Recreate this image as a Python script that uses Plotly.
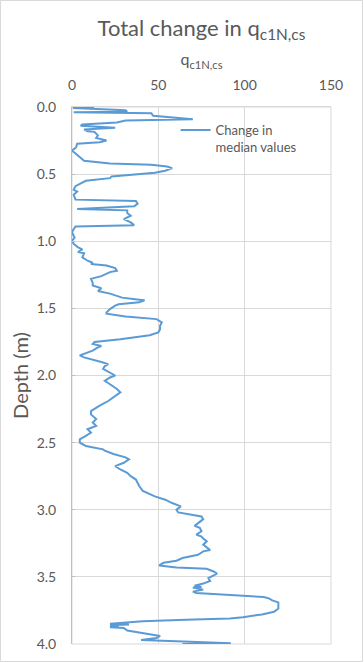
import plotly.graph_objects as go

# Depth (m) and change in median q_c1N,cs values
depth = [
    0.000, 0.008, 0.025, 0.035, 0.040, 0.047, 0.065, 0.092, 0.100, 0.115,
    0.130, 0.140, 0.154, 0.167, 0.180, 0.185, 0.212, 0.230, 0.249, 0.262,
    0.274, 0.299, 0.310, 0.324, 0.335, 0.356, 0.373, 0.400, 0.420, 0.430,
    0.443, 0.455, 0.475, 0.490, 0.517, 0.530, 0.550, 0.567, 0.590, 0.617,
    0.630, 0.654, 0.690, 0.700, 0.720, 0.740, 0.760, 0.770, 0.790, 0.810,
    0.835, 0.860, 0.880, 0.890, 0.910, 0.930, 0.960, 0.975, 0.995, 1.020,
    1.045, 1.060, 1.080, 1.090, 1.120, 1.145, 1.160, 1.170, 1.180, 1.200,
    1.220, 1.230, 1.260, 1.280, 1.310, 1.330, 1.350, 1.370, 1.390, 1.420,
    1.435, 1.440, 1.455, 1.470, 1.480, 1.505, 1.530, 1.540, 1.560, 1.580,
    1.605, 1.630, 1.655, 1.680, 1.700, 1.730, 1.750, 1.765, 1.780, 1.790,
    1.815, 1.840, 1.850, 1.865, 1.880, 1.900, 1.915, 1.930, 1.950, 1.980,
    2.000, 2.015, 2.040, 2.065, 2.100, 2.125, 2.150, 2.190, 2.225, 2.265,
    2.290, 2.325, 2.350, 2.375, 2.400, 2.425, 2.450, 2.475, 2.500, 2.525,
    2.550, 2.560, 2.585, 2.610, 2.625, 2.650, 2.675, 2.700, 2.725, 2.750,
    2.775, 2.825, 2.860, 2.900, 2.925, 2.950, 2.975, 3.000, 3.020, 3.035,
    3.050, 3.070, 3.100, 3.120, 3.135, 3.160, 3.185, 3.200, 3.215, 3.235,
    3.260, 3.300, 3.310, 3.335, 3.360, 3.380, 3.395, 3.415, 3.430, 3.440,
    3.460, 3.475, 3.510, 3.530, 3.550, 3.565, 3.575, 3.580, 3.595, 3.610,
    3.620, 3.632, 3.640, 3.650, 3.660, 3.675, 3.690, 3.735, 3.760, 3.780,
    3.800, 3.810, 3.820, 3.830, 3.850, 3.855, 3.860, 3.865, 3.875, 3.880,
    3.900, 3.920, 3.940, 3.955, 3.970, 3.980, 3.995, 4.000,
]
change_median = [
    12.8, 0.5, 31, 32, 1, 46, 47, 70, 31, 26,
    6, 5, 25, 7, 9, 13, 15, 14, 20, 16,
    3, 2.4, 1.5, 0, 1, 3, 4, 7, 22, 46,
    55, 58, 54, 48, 23, 22, 8, 5, 2, 1,
    3, 1, 2, 37, 38, 36, 3, 32, 32, 34,
    30, 34, 36, 2, 1, 0, 1, 1.5, 0, 1,
    3.5, 6, 3.5, 7, 6, 9, 12, 11, 20, 25,
    26, 22, 17, 11, 12, 12, 17, 15, 22, 29,
    39, 42, 39, 27, 25, 22, 20, 20, 31, 49,
    52, 51, 51, 50, 45, 28, 13, 12, 17, 15,
    12, 6, 4.5, 7, 12, 17, 21, 19, 18, 22,
    25, 22, 19, 22, 26, 28, 25, 21, 16, 11,
    11, 14, 12, 14, 9, 11, 8, 4.5, 4.5, 8,
    18, 19, 24, 31, 33, 30, 25, 28, 32, 34,
    37, 39, 41, 48, 54, 58, 63, 60.5, 61.5, 68,
    75, 76, 73, 71, 74, 75, 72, 75, 76, 78,
    76, 80, 76, 73, 64, 60.5, 53, 50.5, 60.5, 78,
    82, 84, 79, 80, 76, 71, 75, 70, 76, 70,
    72, 88, 105, 111, 114, 116, 119.5, 119.5, 117, 110,
    99, 91.5, 66, 41, 22, 33, 22, 27, 22, 30,
    32, 41, 51, 49, 40, 60.5, 92, 64,
]

x_ticks = [0, 50, 100, 150]
y_ticks = [0.0, 0.5, 1.0, 1.5, 2.0, 2.5, 3.0, 3.5, 4.0]

FONT = "Lato, 'Open Sans', sans-serif"
GREY = "#595959"

fig = go.Figure()
fig.add_trace(go.Scatter(
    x=change_median, y=depth, mode="lines",
    name="Change in<br>median values",
    line=dict(color="#5B9BD5", width=2),
))

L, R, T, B = 72, 33, 107, 18
W, H = 364, 662
pw, ph = W - L - R, H - T - B

fig.update_layout(
    width=W, height=H,
    margin=dict(l=L, r=R, t=T, b=B, autoexpand=False),
    paper_bgcolor="white", plot_bgcolor="white",
    font=dict(family=FONT, color=GREY, size=13),
    title=dict(text="Total change in q<sub>c1N,cs</sub>",
               font=dict(size=22, color=GREY, family=FONT),
               x=(L + pw / 2) / W, xanchor="center",
               y=1 - 28 / H, yanchor="middle", yref="container"),
    showlegend=True,
    legend=dict(x=0.40, y=0.985, xanchor="left", yanchor="top",
                bgcolor="rgba(0,0,0,0)", font=dict(size=13, color=GREY),
                valign="top", tracegroupgap=0),
    xaxis=dict(side="top", range=[0, 150], tickvals=x_ticks,
               ticktext=[str(v) for v in x_ticks],
               automargin=False,
               showgrid=True, gridcolor="#D9D9D9", gridwidth=1,
               showline=True, linecolor="#D9D9D9", linewidth=1,
               zeroline=False, ticks="", ticklabelstandoff=10,
               tickfont=dict(size=14, color=GREY),
               title=dict(text="q<sub>c1N,cs</sub>", standoff=6,
                          font=dict(size=16, color=GREY))),
    yaxis=dict(range=[4.0, 0.0], tickvals=y_ticks,
               ticktext=[f"{v:.1f}" for v in y_ticks],
               automargin=False,
               showgrid=True, gridcolor="#D9D9D9", gridwidth=1,
               showline=True, linecolor="#BFBFBF", linewidth=1,
               zeroline=False, ticks="inside", ticklen=3, tickcolor="#BFBFBF",
               ticklabelstandoff=12,
               tickfont=dict(size=14, color=GREY),
               title=dict(text="Depth (m)", standoff=2,
                          font=dict(size=20, color=GREY))),
)

# chart-area border like the original
fig.add_shape(type="rect", xref="paper", yref="paper",
              x0=(0.5 - L) / pw, x1=(W - 1.5 - L) / pw,
              y0=-(B - 0.5) / ph, y1=(H - B - 0.5) / ph,
              line=dict(color="#D9D9D9", width=1), fillcolor="rgba(0,0,0,0)",
              layer="below")
# right and bottom frame of the plot area
fig.add_shape(type="rect", xref="paper", yref="paper", x0=0, x1=1, y0=0, y1=1,
              line=dict(color="#D9D9D9", width=1), layer="below")

fig.write_html("out.html",
               config={"displayModeBar": False},
               post_script="document.body.style.margin='0';"
                           "document.body.style.overflow='hidden';")
